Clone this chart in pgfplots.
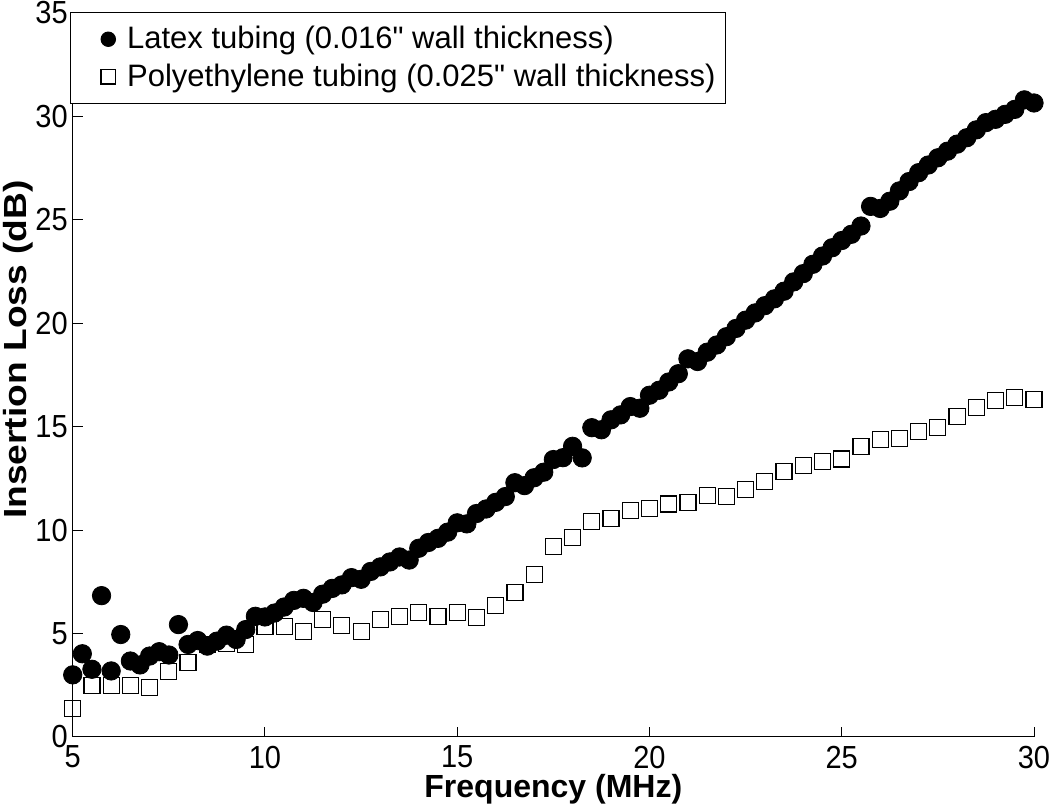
\documentclass[border=0pt]{standalone}
\usepackage{fontspec}
\setmainfont{Liberation Sans}[Ligatures=TeXOff]
\usepackage{pgfplots}
\pgfplotsset{compat=1.18}
\begin{document}
\begin{tikzpicture}
\begin{axis}[
  name=ax,
  scale only axis,
  width=480.5pt, height=361.85pt,
  xmin=5, xmax=30, ymin=0, ymax=35,
  xtick={5,10,...,30}, ytick={0,5,...,35},
  axis x line*=bottom, axis y line*=left,
  tick align=inside,
  major tick length=5pt,
  every tick/.style={black, line width=0.5pt},
  axis line style={line width=0.5pt},
  /pgf/number format/assume math mode=true,
  ticklabel style={font=\fontsize{14.5}{16}\selectfont, yscale=1.1},
  xticklabel style={yshift=-0.5pt},
  yticklabel style={xshift=1pt},
  xlabel={Frequency (MHz)},
  ylabel={Insertion Loss (dB)},
  xlabel style={font=\fontsize{16}{18}\selectfont\bfseries, at={(axis description cs:0.5,-0.072)}, anchor=center},
  ylabel style={font=\fontsize{16}{18}\selectfont\bfseries, at={(axis description cs:-0.057,0.535)}, anchor=center, xscale=1.16},
  legend style={at={(axis description cs:0,1)}, anchor=north west, xshift=-1.4pt, yshift=0.5pt, draw=black, line width=0.5pt,
    font=\fontsize{15.5}{18}\selectfont, legend cell align=left, inner xsep=3pt, inner ysep=5pt, row sep=2pt},
  legend image code/.code={\path[draw=none,fill=none] (0,0) -- (0.82cm,0); \draw[#1, mark size=3.6pt] plot coordinates {(0.56cm,0cm)};},
  clip=false,
]
\addplot[only marks, mark=*, mark size=4.6pt, mark options={fill=black, draw=black}] coordinates {
(5.00,3.00) (5.25,4.02) (5.50,3.27) (5.75,6.83) (6.00,3.19) (6.25,4.95) (6.50,3.67) (6.75,3.48)
(7.00,3.91) (7.25,4.12) (7.50,3.96) (7.75,5.43) (8.00,4.47) (8.25,4.66) (8.50,4.39) (8.75,4.63)
(9.00,4.92) (9.25,4.71) (9.50,5.19) (9.75,5.83) (10.00,5.80) (10.25,5.99) (10.50,6.28) (10.75,6.60)
(11.00,6.70) (11.25,6.50) (11.50,6.90) (11.75,7.18) (12.00,7.35) (12.25,7.70) (12.50,7.62) (12.75,8.00)
(13.00,8.22) (13.25,8.46) (13.50,8.70) (13.75,8.55) (14.00,9.12) (14.25,9.40) (14.50,9.60) (14.75,9.90)
(15.00,10.35) (15.25,10.30) (15.50,10.80) (15.75,11.02) (16.00,11.34) (16.25,11.62) (16.50,12.29) (16.75,12.15)
(17.00,12.53) (17.25,12.80) (17.50,13.41) (17.75,13.50) (18.00,14.05) (18.25,13.49) (18.50,14.95) (18.75,14.85)
(19.00,15.33) (19.25,15.57) (19.50,15.97) (19.75,15.89) (20.00,16.52) (20.25,16.76) (20.50,17.16) (20.75,17.56)
(21.00,18.28) (21.25,18.15) (21.50,18.60) (21.75,18.95) (22.00,19.35) (22.25,19.75) (22.50,20.15) (22.75,20.50)
(23.00,20.85) (23.25,21.18) (23.50,21.55) (23.75,22.00) (24.00,22.40) (24.25,22.85) (24.50,23.25) (24.75,23.65)
(25.00,24.00) (25.25,24.30) (25.50,24.70) (25.75,25.65) (26.00,25.55) (26.25,25.90) (26.50,26.40) (26.75,26.85)
(27.00,27.28) (27.25,27.65) (27.50,28.00) (27.75,28.32) (28.00,28.66) (28.25,28.97) (28.50,29.35) (28.75,29.70)
(29.00,29.86) (29.25,30.10) (29.50,30.34) (29.75,30.80) (30.00,30.65)
};
\addlegendentry{Latex tubing (0.016" wall thickness)}
\addplot[only marks, mark=square, mark size=4pt, mark options={draw=black, fill=white, line width=0.6pt}] coordinates {
(5.0,1.39) (5.5,2.48) (6.0,2.48) (6.5,2.48) (7.0,2.37) (7.5,3.15) (8.0,3.59) (8.5,4.47) (9.0,4.50) (9.5,4.47)
(10.0,5.32) (10.5,5.35) (11.0,5.08) (11.5,5.67) (12.0,5.40) (12.5,5.11) (13.0,5.67) (13.5,5.81) (14.0,6.00) (14.5,5.81)
(15.0,6.00) (15.5,5.76) (16.0,6.34) (16.5,6.98) (17.0,7.87) (17.5,9.21) (18.0,9.63) (18.5,10.42) (19.0,10.57) (19.5,10.94)
(20.0,11.05) (20.5,11.26) (21.0,11.34) (21.5,11.66) (22.0,11.61) (22.5,11.97) (23.0,12.33) (23.5,12.85) (24.0,13.12) (24.5,13.33)
(25.0,13.44) (25.5,14.05) (26.0,14.37) (26.5,14.42) (27.0,14.77) (27.5,14.96) (28.0,15.49) (28.5,15.93) (29.0,16.25) (29.5,16.40)
(30.0,16.32)
};
\addlegendentry{Polyethylene tubing (0.025" wall thickness)}
\end{axis}
\pgfresetboundingbox
\path[use as bounding box] ([shift={(-36.35pt,-35.15pt)}]ax.south west) rectangle ([shift={(8pt,6.5pt)}]ax.north east);
\end{tikzpicture}
\end{document}
